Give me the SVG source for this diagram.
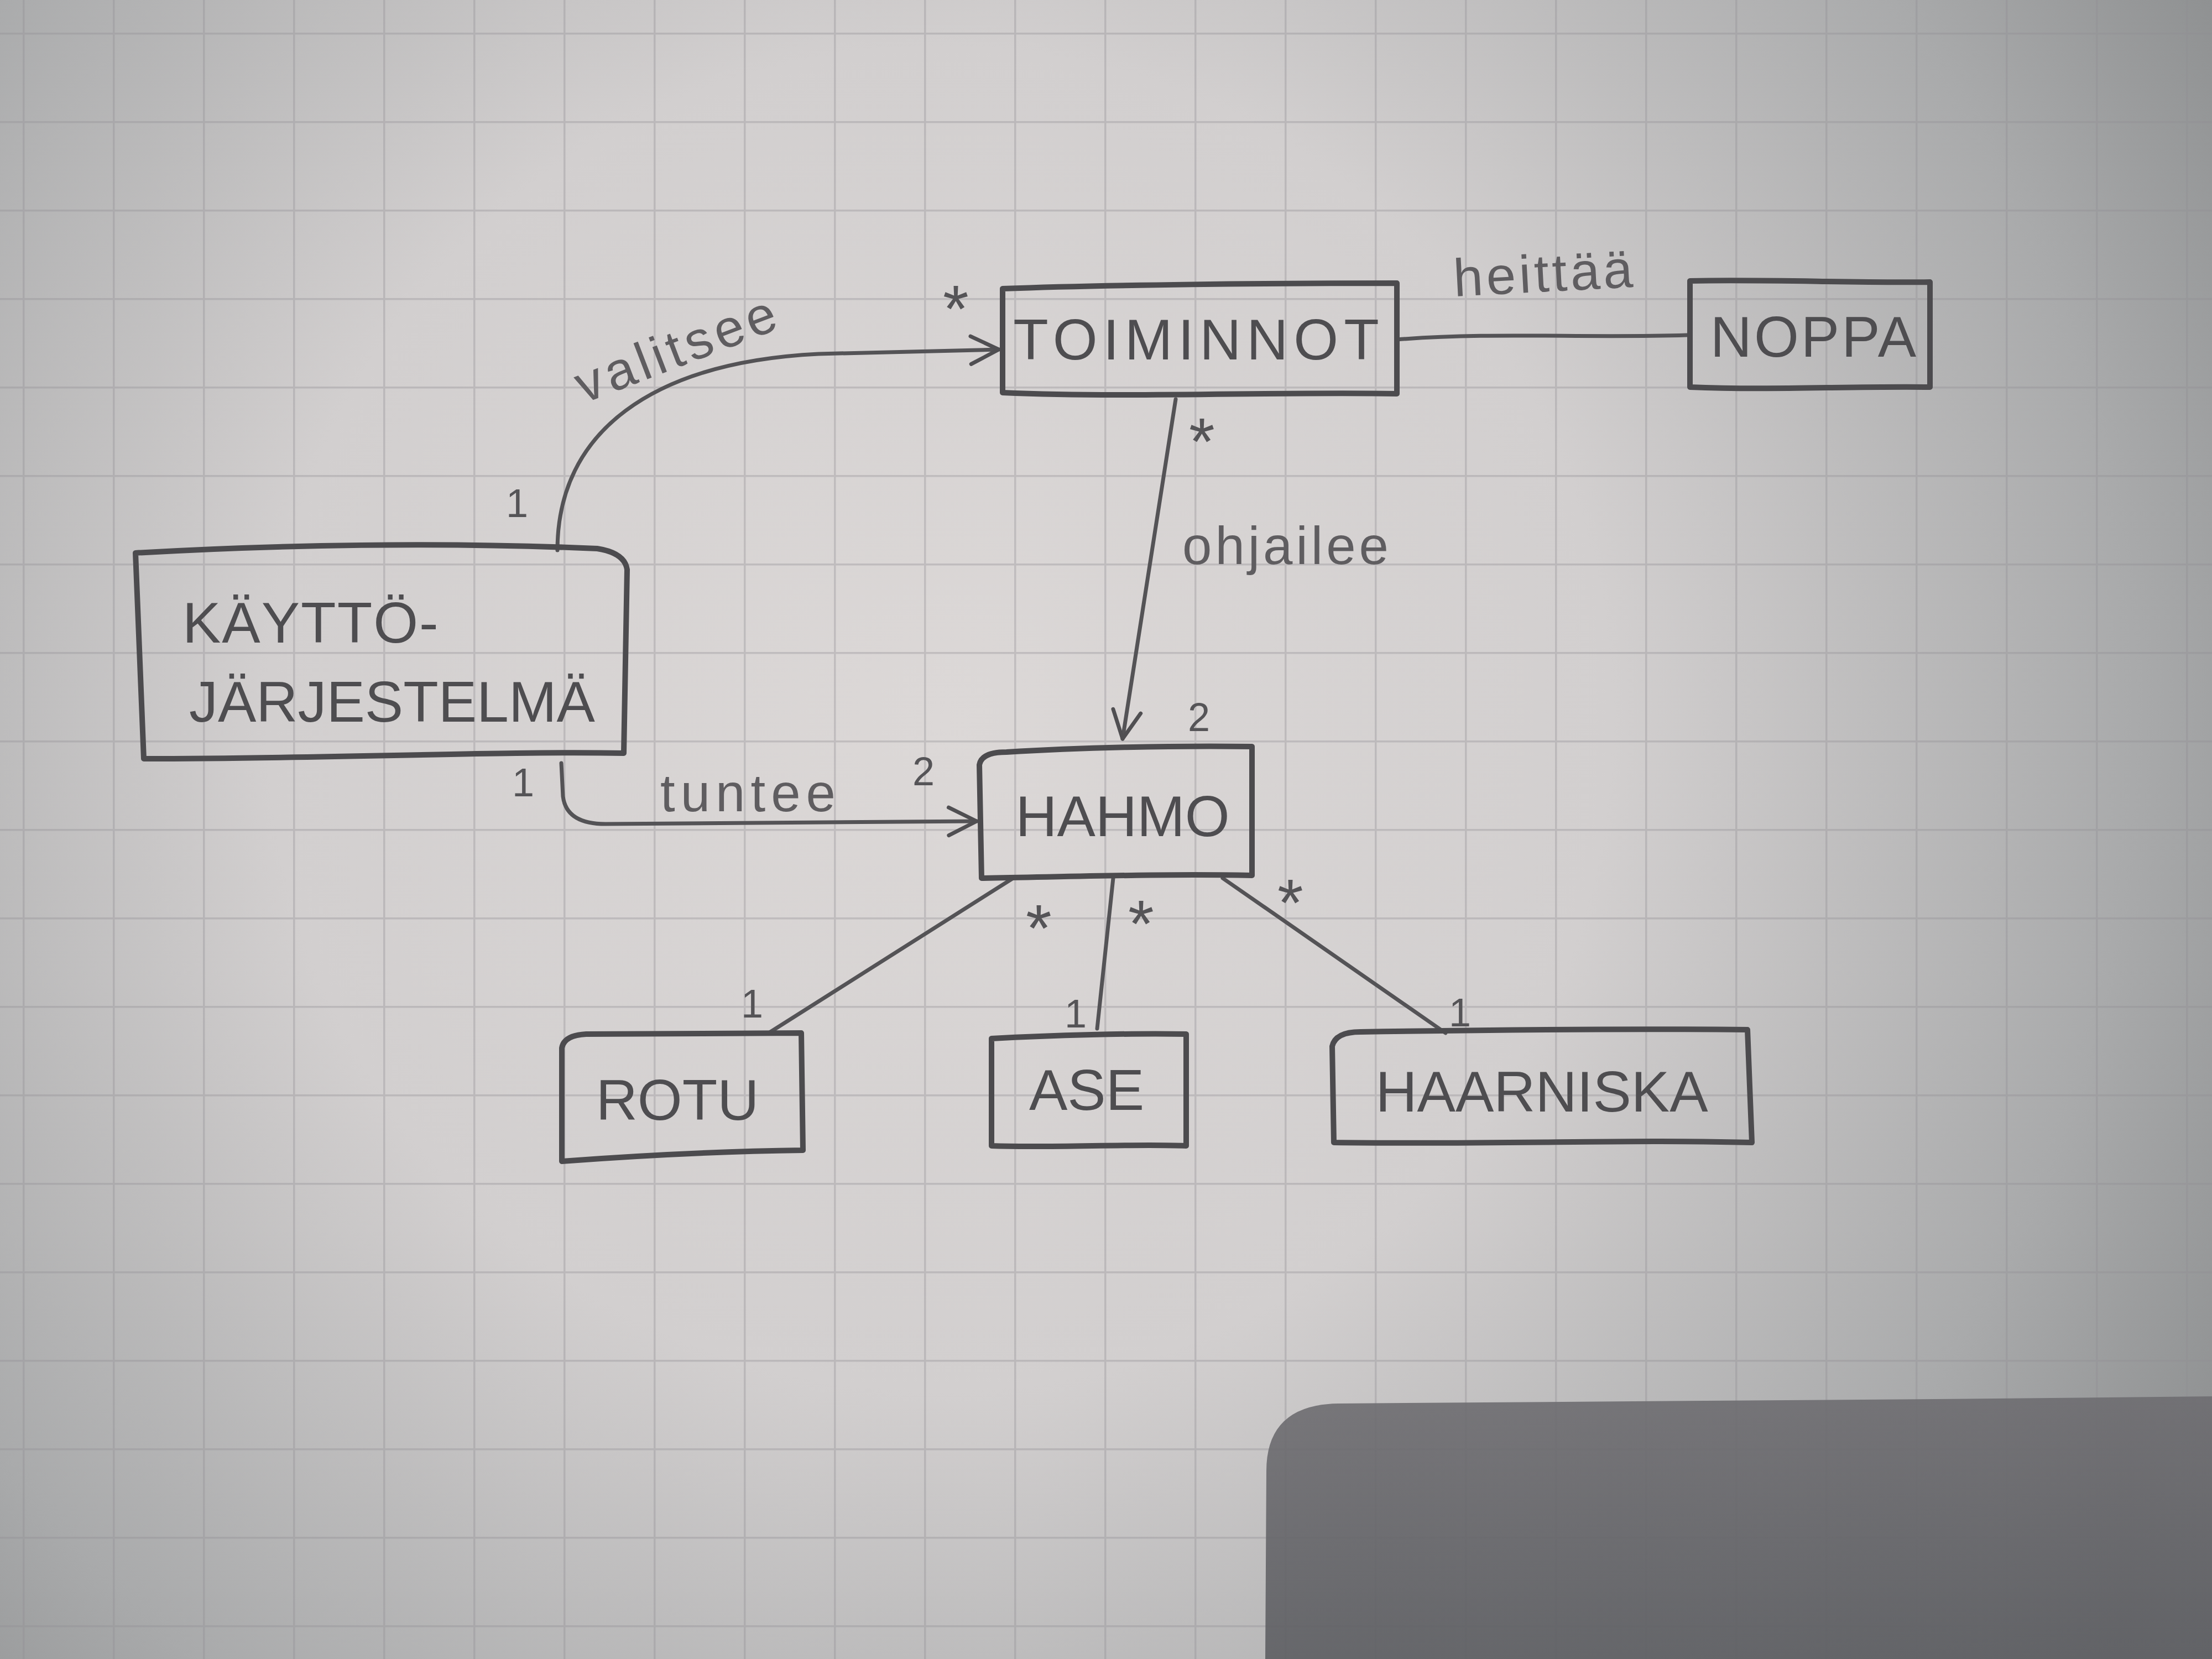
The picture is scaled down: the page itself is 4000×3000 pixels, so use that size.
<svg xmlns="http://www.w3.org/2000/svg" width="4000" height="3000" viewBox="0 0 4000 3000">
<defs>
<radialGradient id="paper" cx="1700" cy="1300" r="2700" gradientUnits="userSpaceOnUse">
<stop offset="0" stop-color="#dcd8d7"/>
<stop offset="0.45" stop-color="#d2cfcf"/>
<stop offset="0.8" stop-color="#a9aaab"/>
<stop offset="1" stop-color="#8c8e8f"/>
</radialGradient>
<pattern id="grid" x="41" y="59" width="163" height="160" patternUnits="userSpaceOnUse">
<path d="M0,0 V160 M0,0 H163" fill="none" stroke="#8f8d92" stroke-opacity="0.35" stroke-width="7"/>
</pattern>
<linearGradient id="shade" x1="0" y1="0" x2="0" y2="1">
<stop offset="0" stop-color="#6e6d71"/>
<stop offset="1" stop-color="#5d5e62"/>
</linearGradient>
<marker id="vee" viewBox="0 0 20 20" refX="18" refY="10" markerWidth="9" markerHeight="9" markerUnits="strokeWidth" orient="auto">
<path d="M2,2 L18,10 L2,18" fill="none" stroke="#504f52" stroke-width="2.2" stroke-linecap="round" stroke-linejoin="round"/>
</marker>
<style>
.box{fill:none;stroke:#4c4b4e;stroke-width:10;stroke-linejoin:round;stroke-linecap:round}
.edge{fill:none;stroke:#545356;stroke-width:7;stroke-linecap:round}
.name{font-family:"Liberation Sans","DejaVu Sans",sans-serif;fill:#4e4d50;font-size:104px}
.lab{font-family:"Liberation Sans","DejaVu Sans",sans-serif;fill:#5f5d60;font-size:96px}
.mul{font-family:"Liberation Sans","DejaVu Sans",sans-serif;fill:#555457;font-size:72px}
.star{font-family:"Liberation Sans","DejaVu Sans",sans-serif;fill:#555457;font-size:120px}
</style>
</defs>
<rect width="4000" height="3000" fill="url(#paper)"/>
<rect width="4000" height="3000" fill="url(#grid)"/>
<path d="M2290,2660 Q2290,2540 2420,2538 L3500,2530 L4000,2525 V3000 H2288 Z" fill="url(#shade)" opacity="0.9"/>

<g id="connectors">
<path class="edge" marker-end="url(#vee)" d="M1008,995 C1008,780 1180,655 1480,640 L1806,632"/>
<path class="edge" d="M2526,614 C2700,600 2860,612 3052,606"/>
<path class="edge" marker-end="url(#vee)" d="M2126,722 L2030,1336"/>
<path class="edge" marker-end="url(#vee)" d="M1015,1380 L1018,1440 Q1024,1490 1095,1490 L1766,1485"/>
<path class="edge" d="M1832,1588 L1390,1868"/>
<path class="edge" d="M2013,1588 L1984,1860"/>
<path class="edge" d="M2211,1588 L2614,1868"/>
<text class="lab" transform="translate(1055,730) rotate(-21)" letter-spacing="8">valitsee</text>
<text class="lab" transform="translate(2630,536) rotate(-3)" letter-spacing="6">heittää</text>
<text class="lab" x="2138" y="1020" letter-spacing="6">ohjailee</text>
<text class="lab" x="1194" y="1467" letter-spacing="10">tuntee</text>
<text class="mul" x="915" y="935">1</text>
<text class="star" x="1705" y="600">*</text>
<text class="star" x="2150" y="840">*</text>
<text class="mul" x="2148" y="1322">2</text>
<text class="mul" x="926" y="1440">1</text>
<text class="mul" x="1650" y="1420">2</text>
<text class="star" x="1855" y="1720">*</text>
<text class="mul" x="1340" y="1840">1</text>
<text class="star" x="2040" y="1712">*</text>
<text class="mul" x="1925" y="1858">1</text>
<text class="star" x="2310" y="1674">*</text>
<text class="mul" x="2620" y="1856">1</text>
</g>

<g id="node-kayttojarjestelma">
<path class="box" d="M245,1000 C500,985 800,980 1080,992 Q1130,1000 1134,1030 L1128,1362 C900,1358 600,1372 260,1372 L245,1000"/>
<text class="name" x="330" y="1162" letter-spacing="2">KÄYTTÖ-</text>
<text class="name" x="342" y="1305">JÄRJESTELMÄ</text>
</g>
<g id="node-toiminnot">
<path class="box" d="M1813,522 C2000,515 2300,512 2526,512 L2526,712 C2300,708 2050,720 1813,710 Z"/>
<text class="name" x="2168" y="650" text-anchor="middle" font-size="92" letter-spacing="10">TOIMINNOT</text>
</g>
<g id="node-noppa">
<path class="box" d="M3056,508 C3200,505 3350,512 3490,510 L3490,700 C3350,698 3200,706 3056,700 Z"/>
<text class="name" x="3281" y="645" text-anchor="middle" letter-spacing="4">NOPPA</text>
</g>
<g id="node-hahmo">
<path class="box" d="M1771,1383 Q1775,1360 1820,1360 C1950,1352 2120,1348 2264,1350 L2264,1583 C2100,1580 1950,1585 1775,1588 Z"/>
<text class="name" x="2030" y="1512" text-anchor="middle" font-size="110">HAHMO</text>
</g>
<g id="node-rotu">
<path class="box" d="M1016,1895 Q1020,1872 1060,1870 L1449,1868 L1452,2080 C1300,2082 1150,2090 1016,2100 Z"/>
<text class="name" x="1225" y="2025" text-anchor="middle" font-size="108">ROTU</text>
</g>
<g id="node-ase">
<path class="box" d="M1793,1878 C1900,1872 2050,1868 2145,1870 L2145,2072 C2050,2068 1900,2076 1793,2072 Z"/>
<text class="name" x="1965" y="2007" text-anchor="middle" font-size="108">ASE</text>
</g>
<g id="node-haarniska">
<path class="box" d="M2409,1892 Q2415,1866 2460,1866 C2700,1862 2950,1860 3160,1862 L3168,2066 C2950,2060 2700,2070 2412,2066 Z"/>
<text class="name" x="2788" y="2010" text-anchor="middle" font-size="110">HAARNISKA</text>
</g>
</svg>
